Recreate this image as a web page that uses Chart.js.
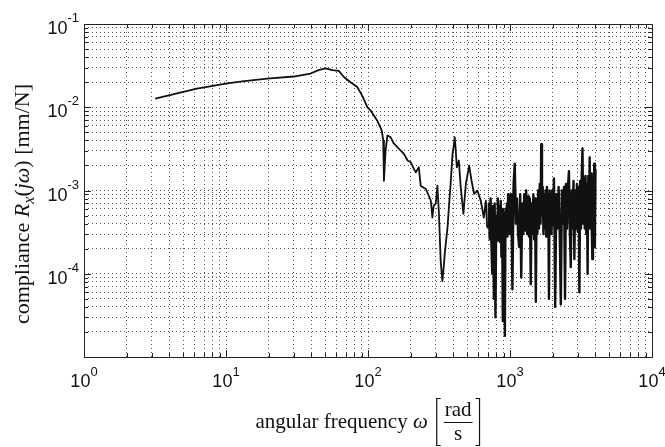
<!DOCTYPE html>
<html>
<head>
<meta charset="utf-8">
<script src="https://cdn.jsdelivr.net/npm/chart.js@4.4.0/dist/chart.umd.min.js"></script>
<style>
  html, body { margin: 0; padding: 0; background: #fff; }
  #wrap { width: 665px; height: 447px; }
</style>
</head>
<body>
<div id="wrap"><canvas id="chart" width="665" height="447"></canvas></div>
<script>
// Smooth part of the measured compliance curve (omega in rad/s, R in mm/N)
const freqLow = [3.17, 6.24, 10.2, 13.0, 19.5, 30.0, 39.4, 44.8, 50.2, 56.2,
  62.3, 67.6, 75.4, 84.0, 91.6, 98.9, 104, 116, 125, 128,
  129.5, 133, 137, 144, 152, 161, 170, 179, 190, 200,
  210, 217, 228, 235, 247, 255, 268, 277, 284, 290,
  300, 308, 316, 325, 334, 342, 347, 363, 383, 394,
  402, 408, 415, 422, 436, 450, 470, 489, 516, 536,
  559, 590, 623, 654, 676, 690];
const compLow = [0.0127, 0.01675, 0.0193, 0.0205, 0.0221, 0.0234, 0.0254, 0.0279, 0.0294, 0.0279,
  0.0274, 0.0231, 0.0200, 0.0175, 0.0135, 0.01005, 0.00918, 0.00695, 0.00526, 0.00399,
  0.00131, 0.00302, 0.00458, 0.00438, 0.00367, 0.00331, 0.00302, 0.00275, 0.00229, 0.00218,
  0.00183, 0.00165, 0.0019, 0.00114, 0.00108, 0.00105, 0.000865, 0.000753, 0.000473, 0.000656,
  0.000694, 0.00114, 0.000525, 0.000142, 8.16e-5, 0.000124, 0.000173, 0.000359, 0.00131, 0.00278,
  0.00347, 0.00437, 0.00302, 0.0019, 0.00229, 0.00109, 0.000525, 0.00121, 0.00199, 0.00131,
  0.000914, 0.000995, 0.000753, 0.000473, 0.000753, 0.000359];

// Noisy high frequency part
const freqHigh = [700, 710, 720, 730, 740, 750, 760, 770, 780, 790,
  800, 810, 820, 830, 840, 850, 860, 870, 880, 890,
  900, 910, 920, 930, 940, 950, 960, 970, 980, 990,
  1000, 1020, 1040, 1060, 1080, 1100, 1120, 1140, 1160, 1180,
  1200, 1220, 1240, 1260, 1280, 1300, 1320, 1340, 1360, 1380,
  1400, 1420, 1440, 1460, 1480, 1500, 1520, 1540, 1560, 1580,
  1600, 1620, 1640, 1660, 1680, 1700, 1720, 1740, 1760, 1780,
  1800, 1820, 1840, 1860, 1880, 1900, 1920, 1940, 1960, 1980,
  2000, 2040, 2080, 2120, 2160, 2200, 2240, 2280, 2320, 2360,
  2400, 2440, 2480, 2520, 2560, 2600, 2640, 2680, 2720, 2760,
  2800, 2840, 2880, 2920, 2960, 3000, 3040, 3080, 3120, 3160,
  3200, 3240, 3280, 3320, 3360, 3400, 3440, 3480, 3520, 3560,
  3600, 3640, 3680, 3720, 3760, 3800, 3840, 3880, 3920, 3960,
  4000];
const compHigh = [3.6e-4, 7e-4, 2.6e-4, 8e-4, 2.2e-4, 1.0e-4, 6.5e-4, 5e-5, 7e-4, 3e-5,
  5e-4, 2.5e-4, 8e-4, 3e-4, 6.5e-4, 2.4e-4, 7.5e-4, 1.6e-4, 6e-4, 2.7e-5,
  5.5e-4, 2e-4, 1.8e-5, 6e-4, 3.2e-4, 7e-4, 2.8e-4, 9e-4, 3.5e-4, 8e-4,
  3e-4, 9e-4, 6.5e-5, 1.2e-3, 2.1e-3, 4e-4, 8e-4, 3e-4, 2.1e-4, 9e-4,
  9e-5, 7e-4, 3e-4, 9e-4, 3.3e-4, 1e-3, 3e-4, 8.5e-4, 2.8e-4, 8e-4,
  7.5e-5, 7e-4, 3e-4, 9e-4, 2.6e-4, 8e-4, 4.6e-5, 7e-4, 3e-4, 1e-3,
  3.5e-4, 1.2e-3, 4e-4, 3.6e-3, 5e-4, 1.1e-3, 3e-4, 9e-4, 3.5e-4, 1e-3,
  2.8e-4, 1.1e-3, 3.5e-4, 9e-4, 5e-5, 1e-3, 3.5e-4, 8e-4, 3e-4, 1e-3,
  3.8e-4, 1.4e-3, 4e-5, 9e-4, 3.5e-4, 1.1e-3, 3e-4, 4.3e-5, 1e-3, 4e-4,
  1.1e-3, 5e-5, 1.2e-3, 3.5e-4, 1.1e-3, 1.7e-3, 3.2e-4, 1.2e-4, 1e-3, 3.5e-4,
  1.3e-3, 1.5e-4, 1e-3, 3.5e-4, 1.2e-3, 3.2e-4, 1.1e-3, 6e-5, 1.3e-3, 3.5e-4,
  1.5e-3, 3.2e-3, 4e-4, 1.4e-3, 3.5e-4, 1.5e-3, 3e-4, 1.2e-3, 1e-4, 1.5e-3,
  4e-4, 2.5e-3, 3.5e-4, 1.6e-3, 4e-4, 1.5e-4, 1.4e-3, 3.5e-4, 2.1e-3, 2.1e-4,
  1.8e-3];

// Axis decades, minor multipliers and labelled exponents
const xDecades = [0, 1, 2, 3];
const yDecades = [-5, -4, -3, -2];
const minorSteps = [1, 2, 3, 4, 5, 6, 7, 8, 9];
const xTickExp = [0, 1, 2, 3, 4];
const yTickExp = [-4, -3, -2, -1];

const serif = '"Liberation Serif", serif';
const xLabelParts = [
  { t: 'angular frequency ', f: '21px ' + serif },
  { t: 'ω', f: 'italic 21px ' + serif }
];
const yLabelParts = [
  { t: 'compliance ', f: '22px ' + serif, dy: 0 },
  { t: 'R', f: 'italic 22px ' + serif, dy: 0 },
  { t: 'x', f: 'italic 16px ' + serif, dy: 5 },
  { t: '(', f: '22px ' + serif, dy: 0 },
  { t: 'j', f: 'italic 22px ' + serif, dy: 0 },
  { t: 'ω', f: 'italic 22px ' + serif, dy: 0 },
  { t: ') [mm/N]', f: '22px ' + serif, dy: 0 }
];

function logTicks(decades, last) {
  let out = [];
  for (let d of decades) {
    for (let m of minorSteps) {
      out.push({ value: m * Math.pow(10, d), major: m === 1 });
    }
  }
  out.push({ value: Math.pow(10, last), major: true });
  return out;
}

let points = [];
for (let i = 0; i < freqLow.length; i++) points.push({ x: freqLow[i], y: compLow[i] });
for (let i = 0; i < Math.min(freqHigh.length, compHigh.length); i++) points.push({ x: freqHigh[i], y: compHigh[i] });

const tickFont = '"Liberation Sans", Arial, sans-serif';

// Draws box, inward ticks, tick labels and axis titles like the matlab figure
const decoPlugin = {
  id: 'deco',
  afterDraw(chart) {
    const ctx = chart.ctx;
    const a = chart.chartArea;
    const xs = chart.scales.x, ys = chart.scales.y;
    ctx.save();
    ctx.strokeStyle = '#222';
    ctx.lineWidth = 1;
    ctx.setLineDash([]);
    ctx.strokeRect(Math.round(a.left) + 0.5, Math.round(a.top) + 0.5,
      Math.round(a.right - a.left), Math.round(a.bottom - a.top));

    // inward ticks on all four sides
    ctx.beginPath();
    for (let t of xs.ticks) {
      let px = Math.round(xs.getPixelForValue(t.value)) + 0.5;
      let len = t.major ? 7 : 4;
      ctx.moveTo(px, a.bottom); ctx.lineTo(px, a.bottom - len);
      ctx.moveTo(px, a.top); ctx.lineTo(px, a.top + len);
    }
    for (let t of ys.ticks) {
      let py = Math.round(ys.getPixelForValue(t.value)) + 0.5;
      let len = t.major ? 7 : 4;
      ctx.moveTo(a.left, py); ctx.lineTo(a.left + len, py);
      ctx.moveTo(a.right, py); ctx.lineTo(a.right - len, py);
    }
    ctx.stroke();

    // tick labels 10^n
    ctx.fillStyle = '#111';
    ctx.textBaseline = 'alphabetic';
    ctx.textAlign = 'left';
    for (let e of xTickExp) {
      let px = xs.getPixelForValue(Math.pow(10, e));
      ctx.font = '18px ' + tickFont;
      let bw = ctx.measureText('10').width;
      ctx.font = '13px ' + tickFont;
      let ew = ctx.measureText(String(e)).width;
      let x0 = px - (bw + ew) / 2;
      ctx.font = '18px ' + tickFont;
      ctx.fillText('10', x0, a.bottom + 30);
      ctx.font = '13px ' + tickFont;
      ctx.fillText(String(e), x0 + bw, a.bottom + 19);
    }
    for (let e of yTickExp) {
      let py = ys.getPixelForValue(Math.pow(10, e));
      ctx.font = '13px ' + tickFont;
      let ew = ctx.measureText(String(e)).width;
      ctx.font = '18px ' + tickFont;
      let bw = ctx.measureText('10').width;
      let right = a.left - 5;
      ctx.fillText('10', right - ew - bw, py + 10);
      ctx.font = '13px ' + tickFont;
      ctx.fillText(String(e), right - ew, py - 2);
    }

    // x axis title with fraction rad/s in brackets
    let base = 428;
    let w = 0;
    for (let p of xLabelParts) { ctx.font = p.f; w += ctx.measureText(p.t).width; }
    ctx.font = '21px ' + serif;
    let fracW = ctx.measureText('rad').width;
    let total = w + 8 + 6 + 3 + fracW + 3 + 6;
    let cx = (a.left + a.right) / 2 - total / 2;
    for (let p of xLabelParts) {
      ctx.font = p.f;
      ctx.fillText(p.t, cx, base);
      cx += ctx.measureText(p.t).width;
    }
    cx += 8;
    ctx.strokeStyle = '#111';
    ctx.lineWidth = 1.2;
    ctx.beginPath();
    ctx.moveTo(cx + 5, 398.5); ctx.lineTo(cx + 1, 398.5); ctx.lineTo(cx + 1, 445.5); ctx.lineTo(cx + 5, 445.5);
    let fx = cx + 9;
    ctx.moveTo(fx - 1, 422.5); ctx.lineTo(fx + fracW + 1, 422.5);
    let rx = fx + fracW + 3;
    ctx.moveTo(rx + 1, 398.5); ctx.lineTo(rx + 5, 398.5); ctx.lineTo(rx + 5, 445.5); ctx.lineTo(rx + 1, 445.5);
    ctx.stroke();
    ctx.font = '21px ' + serif;
    ctx.textAlign = 'center';
    ctx.fillText('rad', fx + fracW / 2, 416);
    ctx.fillText('s', fx + fracW / 2, 440);
    ctx.textAlign = 'left';

    // y axis title, rotated
    let yw = 0;
    for (let p of yLabelParts) { ctx.font = p.f; yw += ctx.measureText(p.t).width; }
    ctx.translate(29, 204);
    ctx.rotate(-Math.PI / 2);
    let ty = -yw / 2;
    for (let p of yLabelParts) {
      ctx.font = p.f;
      ctx.fillText(p.t, ty, p.dy);
      ty += ctx.measureText(p.t).width;
    }
    ctx.restore();
  }
};

const gridOpts = { color: '#555', lineWidth: 1, drawTicks: false };

new Chart(document.getElementById('chart'), {
  type: 'line',
  data: {
    datasets: [{
      data: points,
      borderColor: '#111',
      borderWidth: 1.8,
      borderJoinStyle: 'round',
      pointRadius: 0,
      tension: 0,
      fill: false,
      // the dense noisy band reads as a thicker stroke in the reference
      segment: {
        borderWidth: c => (c.p0.parsed.x >= 690 ? 2.4 : 1.8)
      }
    }]
  },
  options: {
    responsive: false,
    animation: false,
    layout: { padding: { top: 24, right: 13, left: 0, bottom: 0 } },
    plugins: { legend: { display: false }, tooltip: { enabled: false } },
    scales: {
      x: {
        type: 'logarithmic',
        min: 1, max: 1e4,
        afterBuildTicks: s => { s.ticks = logTicks(xDecades, 4); },
        afterFit: s => { s.height = 90; },
        ticks: { display: false, autoSkip: false },
        grid: gridOpts,
        border: { display: false, dash: [1, 3] }
      },
      y: {
        type: 'logarithmic',
        min: 1e-5, max: 0.1,
        afterBuildTicks: s => { s.ticks = logTicks(yDecades, -1); },
        afterFit: s => { s.width = 84; },
        ticks: { display: false, autoSkip: false },
        grid: gridOpts,
        border: { display: false, dash: [1, 3] }
      }
    }
  },
  plugins: [decoPlugin]
});
</script>
</body>
</html>
